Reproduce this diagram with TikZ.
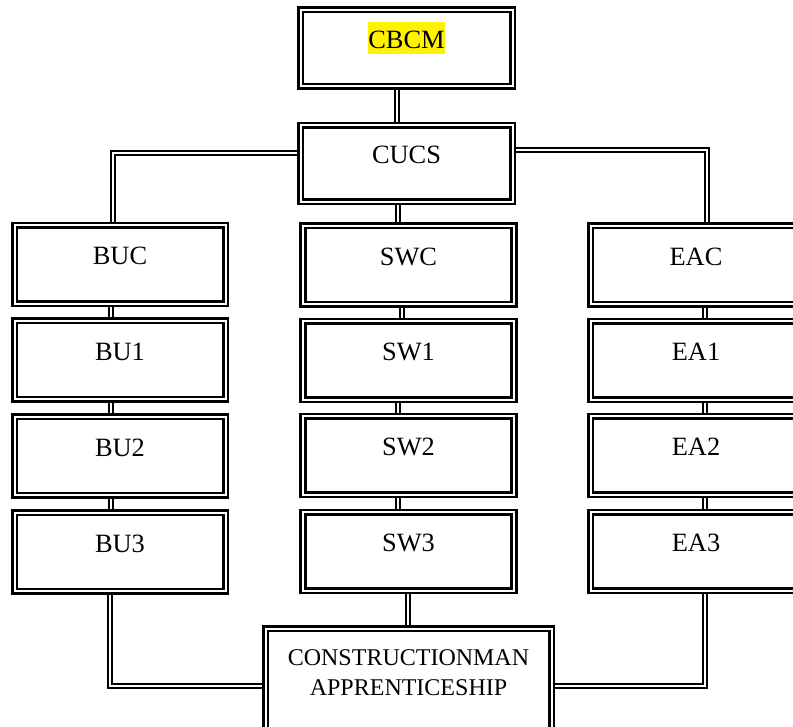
\documentclass[tikz,border=0pt]{standalone}
\usepackage{fontspec}
\setmainfont{Liberation Serif}
\usetikzlibrary{calc}
\pgfdeclarelayer{background}
\pgfsetlayers{background,main}
\begin{document}
\begin{tikzpicture}[x=0.75pt,y=-0.75pt,
  box/.style={draw=black, line width=1.9pt, double=white, double distance=1.5pt,
    fill=white, minimum width=158.25pt, minimum height=59pt, inner sep=0pt,
    font=\fontsize{19.8}{22}\selectfont, text height=12.9pt, text depth=12.75pt},
  topbox/.style={box, minimum width=159pt, minimum height=57.5pt},
  conn/.style={draw=black, line width=1.35pt, double=white, double distance=1.6pt}]
\useasboundingbox (0,0) rectangle (793,726);
\clip (0,0) rectangle (793,726);
% top
\node[topbox] (cbcm) at (406.5,48) {{\fboxsep=0pt\colorbox{yellow}{\rule[-4.5pt]{0pt}{24pt}CBCM}}};
\node[topbox] (cucs) at (406.5,163.5) {CUCS};
% left column
\node[box] (buc) at (120,264.5) {BUC};
\node[box] (bu1) at (120,360) {BU1};
\node[box] (bu2) at (120,456) {BU2};
\node[box] (bu3) at (120,552) {BU3};
% middle column
\node[box] (swc) at (408.5,265) {SWC};
\node[box] (sw1) at (408.5,360.5) {SW1};
\node[box] (sw2) at (408.5,455.5) {SW2};
\node[box] (sw3) at (408.5,551.5) {SW3};
% right column
\node[box] (eac) at (696,265) {EAC};
\node[box] (ea1) at (696,360.5) {EA1};
\node[box] (ea2) at (696,455.5) {EA2};
\node[box] (ea3) at (696,551.5) {EA3};
% bottom
\node[box, minimum width=214.5pt, minimum height=98.25pt] (cm) at (408.5,694) {};
\node[font=\fontsize{18}{22.5}\selectfont, align=center, inner sep=0pt] (cmt) at (408.5,673)
  {CONSTRUCTIONMAN\\APPRENTICESHIP};
\begin{pgfonlayer}{background}
\draw[conn] ($(cbcm.south)+(-9.5,0)$) -- ($(cucs.north)+(-9.5,0)$);
\draw[conn] ($(cucs.west)+(0,-10.5)$) -| ($(buc.north)+(-7,0)$);
\draw[conn] ($(cucs.east)+(0,-13.5)$) -| ($(eac.north)+(11,0)$);
\draw[conn] ($(cucs.south)+(-8.5,0)$) -- ($(swc.north)+(-10.5,0)$);
\draw[conn] ($(buc.south)+(-9,0)$) -- ($(bu1.north)+(-9,0)$);
\draw[conn] ($(bu1.south)+(-9,0)$) -- ($(bu2.north)+(-9,0)$);
\draw[conn] ($(bu2.south)+(-9,0)$) -- ($(bu3.north)+(-9,0)$);
\draw[conn] ($(swc.south)+(-6.5,0)$) -- ($(sw1.north)+(-6.5,0)$);
\draw[conn] ($(sw1.south)+(-10.5,0)$) -- ($(sw2.north)+(-10.5,0)$);
\draw[conn] ($(sw2.south)+(-10.5,0)$) -- ($(sw3.north)+(-10.5,0)$);
\draw[conn] ($(eac.south)+(9,0)$) -- ($(ea1.north)+(9,0)$);
\draw[conn] ($(ea1.south)+(9,0)$) -- ($(ea2.north)+(9,0)$);
\draw[conn] ($(ea2.south)+(9,0)$) -- ($(ea3.north)+(9,0)$);
\draw[conn] ($(bu3.south)+(-10,0)$) |- ($(cm.west)+(0,-8)$);
\draw[conn] ($(ea3.south)+(9,0)$) |- ($(cm.east)+(0,-8)$);
\draw[conn] ($(sw3.south)+(-0.5,0)$) -- ($(cm.north)+(-0.5,0)$);
\end{pgfonlayer}
\end{tikzpicture}
\end{document}
